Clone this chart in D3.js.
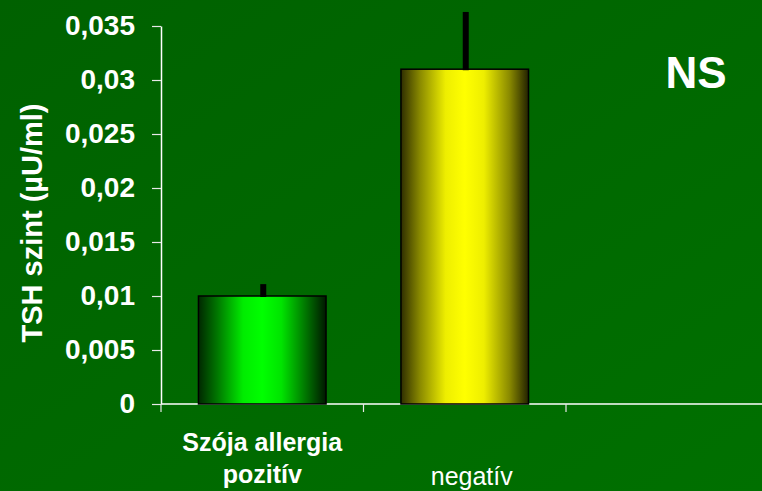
<!DOCTYPE html>
<html>
<head>
<meta charset="utf-8">
<script src="https://cdn.jsdelivr.net/npm/d3@7"></script>
<style>
  html, body { margin: 0; padding: 0; overflow: hidden; }
  svg { display: block; font-family: "Liberation Sans", Arial, sans-serif; }
</style>
</head>
<body>
<svg id="chart" width="762" height="491"></svg>
<script>
// data
const categories = ["Szója allergia pozitív", "negatív"];
const labelLines = [["Szója allergia", "pozitív"], ["negatív"]];
const labelBold = [true, false];
const values = [0.0100, 0.0310];
const errors = [0.0011, 0.0053];
const yTicks = [0, 0.005, 0.01, 0.015, 0.02, 0.025, 0.03, 0.035];
const yTickLabels = ["0", "0,005", "0,01", "0,015", "0,02", "0,025", "0,03", "0,035"];

// shading of each bar, left edge to right edge
const barStops = [
  ["#002800", "#007800", "#00ec00", "#00ff00", "#00e400", "#007000", "#001800"],
  ["#2e2e00", "#8a8a00", "#eeee00", "#ffff00", "#eeee00", "#8a8a00", "#222200"]
];
const stopOffsets = [0, 0.15, 0.35, 0.5, 0.65, 0.85, 1];

const svg = d3.select("#chart");
const W = 762, H = 491;
const plotLeft = 161, plotTop = 26, plotBottom = 404;

// background
const defs = svg.append("defs");
const bg = defs.append("linearGradient").attr("id", "bg")
  .attr("x1", "0").attr("y1", "0").attr("x2", "1").attr("y2", "1");
bg.append("stop").attr("offset", "0%").attr("stop-color", "#006100");
bg.append("stop").attr("offset", "100%").attr("stop-color", "#007000");
svg.append("rect").attr("width", W).attr("height", H).attr("fill", "url(#bg)");

// scales (third slot left empty, as in the original)
const x = d3.scaleBand().domain([...categories, "_"]).range([plotLeft, plotLeft + 3 * 202.5]);
const y = d3.scaleLinear().domain([0, 0.035]).range([plotBottom, plotTop]);
const barW = x.bandwidth() * 0.63;

// bar gradients
categories.forEach((c, i) => {
  const g = defs.append("linearGradient").attr("id", "bar" + i)
    .attr("x1", "0").attr("y1", "0").attr("x2", "1").attr("y2", "0");
  barStops[i].forEach((col, k) => {
    g.append("stop").attr("offset", stopOffsets[k]).attr("stop-color", col);
  });
});

// y axis
const yAxis = d3.axisLeft(y).tickValues(yTicks)
  .tickFormat((d, i) => yTickLabels[i]).tickSize(9).tickSizeOuter(0).tickPadding(17);
const ya = svg.append("g").attr("transform", `translate(${plotLeft},0)`).call(yAxis);
ya.select(".domain").attr("stroke", "#fff").attr("stroke-width", 1.5);
ya.selectAll(".tick line").attr("stroke", "#e8e8e8").attr("stroke-width", 1.2);
ya.selectAll(".tick text").attr("fill", "#fff").attr("font-size", 28)
  .attr("font-weight", "bold").attr("font-family", "Liberation Sans, Arial, sans-serif");

// x axis line and category ticks at band edges
svg.append("line").attr("x1", plotLeft).attr("x2", W).attr("y1", plotBottom).attr("y2", plotBottom)
  .attr("stroke", "#fff").attr("stroke-width", 1.5);
svg.selectAll(".xtick").data(x.domain()).join("line").attr("class", "xtick")
  .attr("x1", d => x(d)).attr("x2", d => x(d))
  .attr("y1", plotBottom).attr("y2", plotBottom + 8)
  .attr("stroke", "#e8e8e8").attr("stroke-width", 1.2);

// bars
svg.selectAll(".bar").data(categories).join("rect").attr("class", "bar")
  .attr("x", d => x(d) + (x.bandwidth() - barW) / 2)
  .attr("width", barW)
  .attr("y", (d, i) => y(values[i]))
  .attr("height", (d, i) => plotBottom - y(values[i]))
  .attr("fill", (d, i) => `url(#bar${i})`)
  .attr("stroke", "#000").attr("stroke-width", 1.5);

// error bars (upper only)
svg.selectAll(".err").data(categories).join("line").attr("class", "err")
  .attr("x1", d => x(d) + x.bandwidth() / 2 + 1).attr("x2", d => x(d) + x.bandwidth() / 2 + 1)
  .attr("y1", (d, i) => y(values[i]) + 1)
  .attr("y2", (d, i) => y(values[i] + errors[i]))
  .attr("stroke", "#000").attr("stroke-width", 6);

// category labels
categories.forEach((c, i) => {
  const cx = x(c) + x.bandwidth() / 2 + (i === 1 ? 7 : 0);
  const t = svg.append("text")
    .attr("text-anchor", "middle").attr("fill", "#fff").attr("font-size", 25)
    .attr("font-weight", labelBold[i] ? "bold" : "normal");
  const y0 = labelLines[i].length > 1 ? 451 : 485;
  labelLines[i].forEach((ln, k) => {
    t.append("tspan").attr("x", cx).attr("y", y0 + k * 32).text(ln);
  });
});

// y axis title
svg.append("text").attr("transform", "translate(42,223) rotate(-90)")
  .attr("text-anchor", "middle").attr("fill", "#fff").attr("font-size", 29)
  .attr("font-weight", "bold").text("TSH szint (µU/ml)");

// NS label
svg.append("text").attr("x", 696).attr("y", 88).attr("text-anchor", "middle")
  .attr("fill", "#fff").attr("font-size", 44).attr("font-weight", "bold").text("NS");
</script>
</body>
</html>
